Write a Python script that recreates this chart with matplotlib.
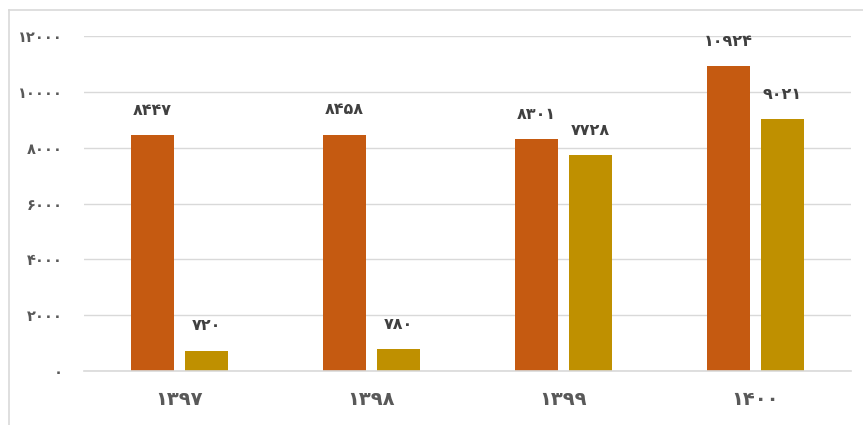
import numpy as np
import matplotlib.pyplot as plt
from matplotlib.lines import Line2D

years = ['1397', '1398', '1399', '1400']
series_a = [8447, 8458, 8301, 10924]
series_b = [720, 780, 7728, 9021]
yticks = [0, 2000, 4000, 6000, 8000, 10000, 12000]

FA = str.maketrans('0123456789', '۰۱۲۳۴۵۶۷۸۹')


def fa(v):
    return str(v).translate(FA)


plt.rcParams['font.family'] = ['DejaVu Sans']

fig = plt.figure(figsize=(8.63, 4.25), dpi=100)
ax = fig.add_axes([83.5 / 863, 1 - 371 / 425, (851 - 83.5) / 863, (371 - 36) / 425])

x = np.arange(len(years))
w = 0.224
off = 0.1406
ax.bar(x - off, series_a, w, color='#C55A11', zorder=3)
ax.bar(x + off, series_b, w, color='#BF9000', zorder=3)

for xi, v in zip(x - off, series_a):
    ax.annotate(fa(v), (xi, v), xytext=(0, 25), textcoords='offset pixels',
                ha='center', va='center', fontsize=11.5, fontweight='bold', color='#404040')
for xi, v in zip(x + off, series_b):
    ax.annotate(fa(v), (xi, v), xytext=(0, 25), textcoords='offset pixels',
                ha='center', va='center', fontsize=11.5, fontweight='bold', color='#404040')

ax.set_xlim(-0.5, len(years) - 0.5)
ax.set_ylim(0, 12000)
ax.set_yticks(yticks)
ax.set_yticklabels([fa(t) for t in yticks], fontsize=10.5, fontweight='bold', color='#595959')
ax.set_xticks(x)
ax.set_xticklabels([fa(y) for y in years], fontsize=14, fontweight='bold', color='#595959')
ax.tick_params(axis='y', length=0, pad=15)
ax.tick_params(axis='x', length=0, pad=14)
ax.grid(axis='y', color='#D9D9D9', lw=1, zorder=0)
ax.axhline(0, color='#D9D9D9', lw=1.2, zorder=4, clip_on=False)
for s in ax.spines.values():
    s.set_visible(False)

# chart border (left and top edges visible)
fig.add_artist(Line2D([8.5 / 863, 8.5 / 863], [0, 1 - 10 / 425], color='#D9D9D9', lw=1.2))
fig.add_artist(Line2D([8.5 / 863, 1], [1 - 10 / 425, 1 - 10 / 425], color='#D9D9D9', lw=1.2))

fig.savefig('out.png', dpi=100)
